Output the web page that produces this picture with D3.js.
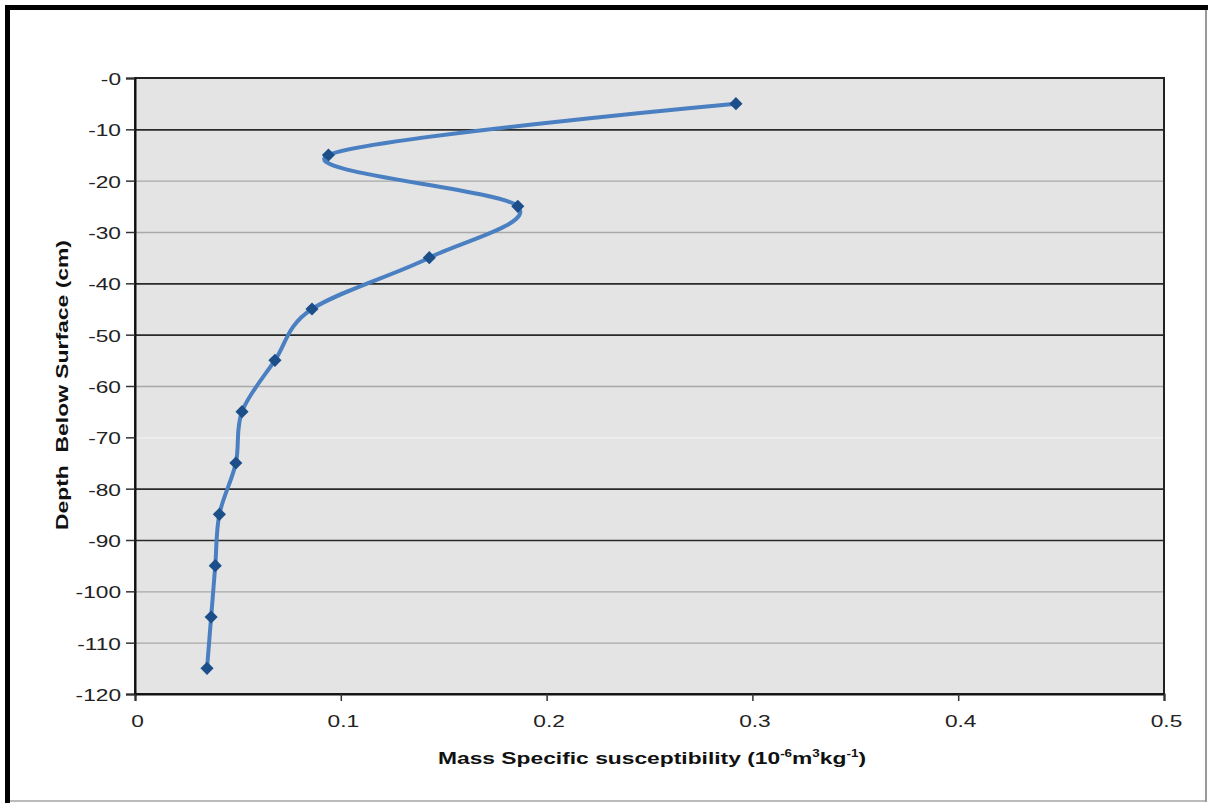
<!DOCTYPE html>
<html>
<head>
<meta charset="utf-8">
<script src="https://cdn.jsdelivr.net/npm/d3@7/dist/d3.min.js"></script>
<style>
  html, body { margin: 0; padding: 0; background: #fff; }
  svg { display: block; }
  text { font-family: "Liberation Sans", Arial, sans-serif; }
</style>
</head>
<body>
<svg id="chart" width="1209" height="803"></svg>
<script>
// ---- data ----
const depths = [-5, -15, -25, -35, -45, -55, -65, -75, -85, -95, -105, -115];
const susceptibility = [0.292, 0.094, 0.186, 0.143, 0.086, 0.068, 0.052, 0.049, 0.041, 0.039, 0.037, 0.035];
const xTicks = [0, 0.1, 0.2, 0.3, 0.4, 0.5];
const xTickLabels = ["0", "0.1", "0.2", "0.3", "0.4", "0.5"];
const yTicks = [0, -10, -20, -30, -40, -50, -60, -70, -80, -90, -100, -110, -120];
const yTickLabels = ["-0", "-10", "-20", "-30", "-40", "-50", "-60", "-70", "-80", "-90", "-100", "-110", "-120"];
const darkGrid = [-10, -40, -50, -80, -90];
const faintGrid = [-70];

const svg = d3.select("#chart");
const W = 1209, H = 803;
const plot = { left: 135, top: 78, right: 1164, bottom: 694 };
const stretch = 1.42;

// outer frame
svg.append("rect").attr("x", 0).attr("y", 0).attr("width", W).attr("height", H).attr("fill", "#fff");
svg.append("line").attr("x1", 10).attr("x2", 1206).attr("y1", 801).attr("y2", 801).attr("stroke", "#bbb").attr("stroke-width", 2);
svg.append("line").attr("x1", 1206).attr("x2", 1206).attr("y1", 5).attr("y2", 802).attr("stroke", "#999").attr("stroke-width", 2);
svg.append("line").attr("x1", 5).attr("x2", 1208).attr("y1", 7.5).attr("y2", 7.5).attr("stroke", "#000").attr("stroke-width", 5);
svg.append("line").attr("x1", 7.5).attr("x2", 7.5).attr("y1", 5).attr("y2", 803).attr("stroke", "#000").attr("stroke-width", 5);

const x = d3.scaleLinear().domain([0, 0.5]).range([plot.left, plot.right]);
const y = d3.scaleLinear().domain([0, -120]).range([plot.top, plot.bottom]);

// plot background
svg.append("rect")
  .attr("x", plot.left).attr("y", plot.top)
  .attr("width", plot.right - plot.left).attr("height", plot.bottom - plot.top)
  .attr("fill", "#e4e4e4");

// gridlines
svg.append("g").selectAll("line")
  .data(yTicks.filter(d => d !== 0 && d !== -120))
  .join("line")
  .attr("x1", plot.left).attr("x2", plot.right)
  .attr("y1", d => y(d) + 0.5).attr("y2", d => y(d) + 0.5)
  .attr("stroke", d => darkGrid.includes(d) ? "#2a2a2a" : (faintGrid.includes(d) ? "#f2f2f2" : "#a8a8a8"))
  .attr("stroke-width", d => darkGrid.includes(d) ? 1.6 : 1.4);

// plot border
svg.append("rect")
  .attr("x", plot.left).attr("y", plot.top)
  .attr("width", plot.right - plot.left).attr("height", plot.bottom - plot.top)
  .attr("fill", "none").attr("stroke", "#222").attr("stroke-width", 2);

// axes
const yAxis = d3.axisLeft(y).tickValues(yTicks).tickSize(9).tickPadding(5)
  .tickFormat((d, i) => yTickLabels[i]);
const gy = svg.append("g").attr("transform", `translate(${plot.left},0)`).call(yAxis);
gy.select(".domain").attr("stroke", "#111").attr("stroke-width", 2);
gy.selectAll(".tick line").attr("stroke", "#333").attr("stroke-width", 1.5);
gy.selectAll(".tick text")
  .attr("font-size", 16).attr("fill", "#222")
  .attr("font-family", "'Liberation Sans', Arial, sans-serif")
  .attr("x", 0).attr("dy", "0.4em")
  .attr("transform", `translate(-14,0) scale(${stretch},1)`);

const xAxis = d3.axisBottom(x).tickValues(xTicks).tickSize(7).tickPadding(10)
  .tickFormat((d, i) => xTickLabels[i]);
const gx = svg.append("g").attr("transform", `translate(0,${plot.bottom})`).call(xAxis);
gx.select(".domain").attr("stroke", "#111").attr("stroke-width", 2);
gx.selectAll(".tick line").attr("stroke", "#333").attr("stroke-width", 1.5);
gx.selectAll(".tick text")
  .attr("font-size", 16).attr("fill", "#222")
  .attr("font-family", "'Liberation Sans', Arial, sans-serif")
  .attr("y", 0).attr("dy", 0)
  .attr("transform", `translate(2,33) scale(${stretch},1)`);

// series
const pts = depths.map((d, i) => ({ depth: d, val: susceptibility[i] }));
const line = d3.line().x(d => x(d.val)).y(d => y(d.depth)).curve(d3.curveCatmullRom.alpha(0));
svg.append("path").datum(pts)
  .attr("d", line)
  .attr("fill", "none").attr("stroke", "#4a7fc1").attr("stroke-width", 4)
  .attr("stroke-linejoin", "round").attr("stroke-linecap", "round");

const diamond = d3.symbol().type(d3.symbolDiamond2).size(110);
svg.append("g").selectAll("path")
  .data(pts).join("path")
  .attr("transform", d => `translate(${x(d.val)},${y(d.depth)})`)
  .attr("d", diamond)
  .attr("fill", "#1c4e8a");

// axis titles
svg.append("text")
  .attr("x", 438).attr("y", 764)
  .attr("textLength", 428).attr("lengthAdjust", "spacingAndGlyphs")
  .attr("font-size", 17).attr("font-weight", "bold").attr("fill", "#111")
  .html('Mass Specific susceptibility (10<tspan dy="-7" font-size="10">-6</tspan><tspan dy="7">m</tspan><tspan dy="-7" font-size="10">3</tspan><tspan dy="7">kg</tspan><tspan dy="-7" font-size="10">-1</tspan><tspan dy="7">)</tspan>');

svg.append("text")
  .attr("transform", `translate(68,385) rotate(-90)`)
  .attr("x", -145)
  .attr("textLength", 290).attr("lengthAdjust", "spacingAndGlyphs")
  .attr("font-size", 17).attr("font-weight", "bold").attr("fill", "#111")
  .attr("xml:space", "preserve")
  .style("white-space", "pre")
  .text("Depth  Below Surface (cm)");
</script>
</body>
</html>
